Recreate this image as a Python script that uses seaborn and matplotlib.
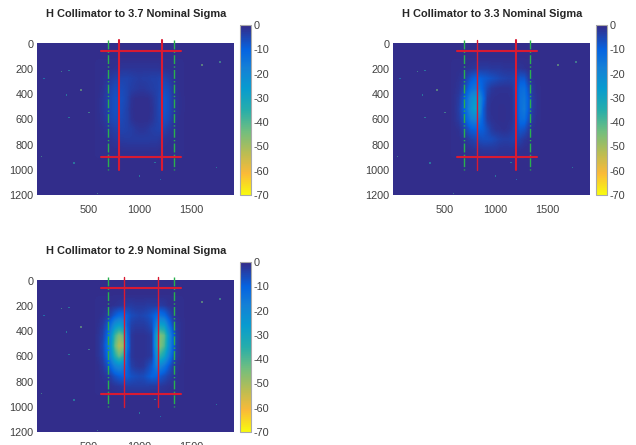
import numpy as np
import matplotlib
matplotlib.use("Agg")
import matplotlib.pyplot as plt
from matplotlib.colors import LinearSegmentedColormap
import seaborn as sns

sns.set_style("white")
plt.rcParams['font.family'] = ['Liberation Sans', 'DejaVu Sans']
plt.rcParams['axes.unicode_minus'] = False

titles = ["H Collimator to 3.7 Nominal Sigma",
          "H Collimator to 3.3 Nominal Sigma",
          "H Collimator to 2.9 Nominal Sigma"]

# loss depth: rows y=200..840 step 80, cols x=600..1400 step 40
core_37 = [
 [1,1,1,1.2,1.5,1.8,2,2,2,2,2,2,2,2,2,1.8,1.5,1.2,1,1,1],
 [1,1.2,2,3,4,4.5,4.5,4.5,4,3.5,3.2,3.5,3.5,4,4,4.5,4.5,3.5,2,1.2,1],
 [1,1.5,3,4.5,6,6,5.5,4.5,3.5,3,2.5,2.5,3,3.5,4,5,6.5,5.5,3,1.5,1],
 [1.2,2,3.5,5.5,7,7,6,4.5,1.8,1,1,1,1,2,3.5,5.5,8,6.5,3.5,1.8,1.2],
 [1.2,2,3.5,5.5,7,7,5.5,4,1.5,.9,.9,.9,.9,1.5,3.5,5.5,8,6.5,3.5,1.8,1.2],
 [1.2,1.8,3,5,6,6,5,4,1.8,1,.9,1,1,1.8,3.5,5,7,5.5,3,1.5,1],
 [1,1.2,2,3,4,4.5,4.5,4,3.5,2.5,2,2,2.5,3.5,4,4.5,4.5,3,2,1.2,1],
 [1,1,1.2,1.8,2.5,3,3,3.2,3.2,3.2,3.2,3.2,3.2,3,3,2.5,2,1.5,1.2,1,1],
 [1,1,1,1,1.2,1.2,1.5,1.5,1.5,1.5,1.5,1.5,1.5,1.5,1.5,1.2,1.2,1,1,1,1]]
core_33 = [
 [1,1,1.2,1.5,2,2.5,3,3,3,2.5,2.5,2.5,2,2,2,2,2,1.5,1,1,1],
 [1,1.5,2.5,5,8,10,10,9,8,7,6,5,4.5,4,4,5,8,8,3.5,1.5,1],
 [1.2,2,4,8,13,15,14,9,5,2.5,1.8,1.5,1.5,1.5,2,6,12,13,7,2.5,1.2],
 [1.5,3,7,13,21,25,24,12,3,1.5,1.2,1.2,1.2,1.2,1.5,6,13,15,9,3,1.5],
 [1.5,3.5,8,14,23,28,25,9,2.5,1.2,1.2,1,1,1.2,1.5,6,13,16,9,3,1.5],
 [1.5,3,6,11,17,19,16,9,3,1.5,1.2,1,1,1.2,1.5,5,12,13,7,2.5,1.2],
 [1,1.5,3.5,6,9,10,10,9,6,3,1.8,1.5,1.2,1.5,2.5,5,8,7,3.5,1.5,1],
 [1,1,1.5,2.5,4,5,6,6.5,6.5,6,5,4,3.5,3.5,4,4.5,4,2.5,1.5,1,1],
 [1,1,1,1.2,1.5,2,2,2.5,2.5,2.5,2.5,2,2,2,2,1.5,1.5,1,1,1,1]]
core_29 = [
 [1,1,1,1.2,1.5,2,2.5,3,3,2.5,2.5,2.5,3,3,3,3,2.5,1.5,1.2,1,1],
 [1,1.5,3,5,9,12,12,9,6,5,4.5,5,6,8,11,14,12,7,3,1.5,1],
 [1.5,3,7,14,24,28,24,9,4,3,3,3,4,6,17,30,28,16,7,2.5,1.5],
 [2,4,10,22,38,46,42,12,2.5,1.5,1.5,1.5,2,3,26,46,42,26,12,3.5,1.5],
 [2,5,12,24,42,52,48,14,2.5,1.5,1.5,1.5,2,3,26,46,40,25,12,3.5,1.5],
 [2,4,10,20,34,42,36,10,2.5,1.5,1.5,1.5,2,3,20,36,30,19,9,3,1.5],
 [1.2,2.5,6,11,18,21,18,10,4,2.5,2,2.5,5,8,16,19,15,9,4,2,1],
 [1,1.5,2.5,4,7,9,10,9,7,6,5.5,6,8,10,10,8,6,4,2.5,1.5,1],
 [1,1,1.2,1.5,2,2.5,3,3.5,3.5,3.5,3.5,3.5,3.5,3,3,2.5,2,1.5,1.2,1,1]]
cores = [core_37, core_33, core_29]

speck_x = [240,312,70,429,286,506,312,1610,1785,360,43,1751,1202,587,1000,1150]
speck_y = [220,213,273,366,405,547,586,168,144,945,892,984,1076,1190,1050,940]
speck_v = [-40,-35,-30,-45,-35,-40,-35,-45,-40,-35,-40,-35,-30,-40,-35,-35]

red_x = [(800,1220),(823,1199),(846,1176)]
red_w = [(1.5,1.5),(1.0,1.5),(1.0,1.0)]
green_x = [(690,1335),(688,1332),(690,1335)]
band_y = (60,895)
xticks = [500,1000,1500]
yticks = [0,200,400,600,800,1000,1200]
cbar_ticks = [0,-10,-20,-30,-40,-50,-60,-70]

boxes = [((37,234,25,195),(240,250.5,25,195)),
         ((393,590,25,195),(596,607,25,195)),
         ((37,234,262,432),(240,250.5,262,432))]

cmap = LinearSegmentedColormap.from_list("parula_r", [
    (0.0,(.9763,.9831,.0538)),(.125,(.98,.73,.22)),(.25,(.72,.74,.33)),
    (.375,(.44,.745,.50)),(.5,(.15,.68,.67)),(.625,(.03,.61,.81)),
    (.75,(.08,.50,.84)),(.857,(.02,.39,.88)),(1.0,(.2081,.1663,.5292))])

W,H = 636,445
fx = lambda v: (np.asarray(v,float)+20)/40.0
fy = lambda v: np.asarray(v,float)/80.0
fig = plt.figure(figsize=(W/100,H/100),dpi=100,facecolor='white')
def rect(b):
    l,r,t,bt = b
    return [l/W,1-bt/H,(r-l)/W,(bt-t)/H]

text_c = '#404040'
red = '#d91a32'
for core,title,(abox,cbox),rx,rw,gx in zip(cores,titles,boxes,red_x,red_w,green_x):
    ax = fig.add_axes(rect(abox))
    cax = fig.add_axes(rect(cbox))
    grid = np.full((15,49),-0.8)
    grid[2:11,15:36] = -np.array(core)
    sns.heatmap(grid,ax=ax,cbar_ax=cax,cmap=cmap,vmin=-70,vmax=0,
                xticklabels=False,yticklabels=False,rasterized=True)
    ax.imshow(grid,extent=(0,49,15,0),aspect='auto',interpolation='bilinear',
              cmap=cmap,vmin=-70,vmax=0,zorder=2)
    ax.scatter(fx(speck_x),fy(speck_y),c=speck_v,s=1.0,marker='s',alpha=.55,
               cmap=cmap,vmin=-70,vmax=0,linewidths=0,zorder=3)
    for v in gx:
        ax.plot([fx(v)]*2,[fy(-30),fy(1000)],color='#2ab04e',lw=1.0,ls='-.',zorder=4)
    for v,w in zip(rx,rw):
        ax.plot([fx(v)]*2,[fy(-30),fy(1000)],color=red,lw=w,zorder=5)
    for v in band_y:
        ax.plot([fx(620),fx(1405)],[fy(v)]*2,color=red,lw=1.5,zorder=5)
    ax.set_xlim(fx(0),fx(1920)); ax.set_ylim(fy(1200),fy(-150))
    ax.set_xticks(fx(xticks)); ax.set_xticklabels(xticks)
    ax.set_yticks(fy(yticks)); ax.set_yticklabels(yticks)
    ax.tick_params(length=0,labelsize=7.8,labelcolor=text_c,pad=2.5)
    ax.tick_params(axis='x',pad=7)
    for s in ('top','right','bottom'):
        ax.spines[s].set_visible(False)
    ax.spines['left'].set_color('#b8b8b8'); ax.spines['left'].set_linewidth(1.0)
    ax.set_title(title,fontsize=7.9,fontweight='bold',color='#262626',pad=0,
                 x=0.505,y=1.045)
    cax.set_yticks(cbar_ticks)
    cax.tick_params(length=1.5,width=.5,labelsize=7.8,labelcolor=text_c,pad=2,right=True,color='#555555',direction='in')
    cb = ax.collections[0].colorbar
    cb.outline.set_edgecolor('#aaaaaa'); cb.outline.set_linewidth(.8); cb.outline.set_visible(True)
fig.savefig("out.png",dpi=100)
